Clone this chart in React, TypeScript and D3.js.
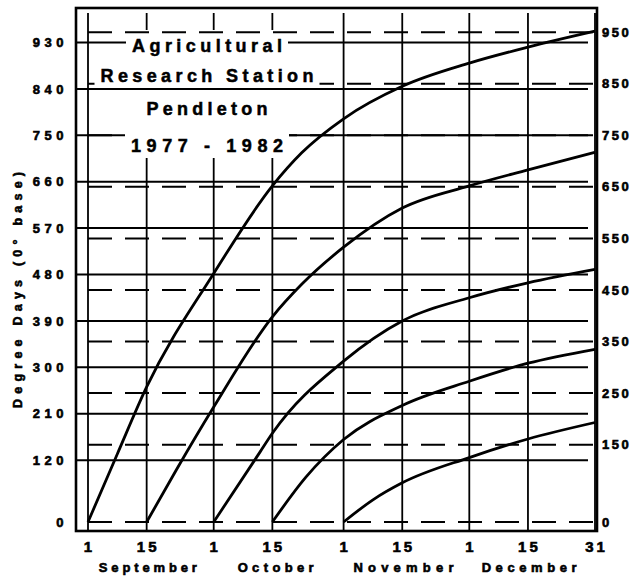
import { useEffect, useRef } from "react";
import * as d3 from "d3";

// tick dates along the bottom and their printed labels
const tickDates = [
    "1981-09-01",
    "1981-09-15",
    "1981-10-01",
    "1981-10-15",
    "1981-11-01",
    "1981-11-15",
    "1981-12-01",
    "1981-12-15",
    "1981-12-31",
];
const tickLabels = ["1", "15", "1", "15", "1", "15", "1", "15", "31"];
const months = ["September", "October", "November", "December"];
const monthStarts = ["1981-09-01", "1981-10-01", "1981-11-01", "1981-12-01", "1981-12-31"];

// solid grid (left scale) and dashed grid (right scale)
const leftValues = [0, 120, 210, 300, 390, 480, 570, 660, 750, 840, 930];
const rightValues = [0, 150, 250, 350, 450, 550, 650, 750, 850, 950];

const titleLines = ["Agricultural", "Research Station", "Pendleton", "1977 - 1982"];

// accumulated degree days, one curve per start date
const fromSep1 = [
    ["1981-09-01", 0],
    ["1981-09-08", 132],
    ["1981-09-15", 262],
    ["1981-10-01", 482],
    ["1981-10-15", 652],
    ["1981-10-22", 716],
    ["1981-11-01", 782],
    ["1981-11-15", 845],
    ["1981-12-01", 890],
    ["1981-12-15", 921],
    ["1981-12-31", 952],
];
const fromSep15 = [
    ["1981-09-15", 0],
    ["1981-09-22", 100],
    ["1981-10-01", 223],
    ["1981-10-15", 398],
    ["1981-10-22", 461],
    ["1981-11-01", 533],
    ["1981-11-15", 609],
    ["1981-12-01", 652],
    ["1981-12-15", 683],
    ["1981-12-31", 717],
];
const fromOct1 = [
    ["1981-10-01", 0],
    ["1981-10-12", 135],
    ["1981-10-15", 172],
    ["1981-11-01", 312],
    ["1981-11-15", 390],
    ["1981-12-01", 435],
    ["1981-12-15", 464],
    ["1981-12-31", 490],
];
const fromOct15 = [
    ["1981-10-15", 0],
    ["1981-10-23", 87],
    ["1981-11-01", 160],
    ["1981-11-15", 226],
    ["1981-12-01", 273],
    ["1981-12-15", 308],
    ["1981-12-31", 335],
];
const fromNov1 = [
    ["1981-11-01", 0],
    ["1981-11-08", 43],
    ["1981-11-15", 76],
    ["1981-12-01", 125],
    ["1981-12-15", 161],
    ["1981-12-31", 193],
];
const allSeries = [fromSep1, fromSep15, fromOct1, fromOct15, fromNov1];

const font = "'Liberation Sans', Arial, sans-serif";

const App = () => {
    const ref = useRef<HTMLDivElement>(null);

    useEffect(() => {
        const width = 633;
        const height = 580;
        const frameLeft = 76;
        const frameTop = 8;
        const frameRight = 597;
        const axisY = 531;

        const parse = (s: string) => new Date(s + "T00:00:00Z");

        const x = d3.scaleUtc([parse("1981-09-01"), parse("1981-12-31")], [88, 595]);
        const y = d3.scaleLinear([0, 950], [522, 32.2]);

        const svg = d3
            .create("svg")
            .attr("width", width)
            .attr("height", height)
            .attr("viewBox", [0, 0, width, height])
            .style("background", "#fff")
            .style("font-family", font);

        // attach first so text can be measured
        ref.current!.innerHTML = "";
        ref.current!.appendChild(svg.node()!);

        // layers in drawing order
        const gVert = svg.append("g");
        const gBox = svg.append("g");
        const gGrid = svg.append("g");
        const gBacks = svg.append("g");
        const gTitle = svg.append("g")
            .attr("font-weight", "bold")
            .attr("fill", "#000")
            .attr("stroke", "#000")
            .attr("stroke-width", 0.5);

        // vertical grid lines
        gVert.selectAll("line")
            .data(tickDates)
            .join("line")
            .attr("x1", (d) => x(parse(d)))
            .attr("x2", (d) => x(parse(d)))
            .attr("y1", frameTop + 5)
            .attr("y2", axisY)
            .attr("stroke", "#000")
            .attr("stroke-width", 1.8);

        // horizontal grid: solid on the left scale, dashed on the right scale
        gGrid.selectAll("line.solid")
            .data(leftValues.filter((v) => v > 0))
            .join("line")
            .attr("class", "solid")
            .attr("x1", frameLeft)
            .attr("x2", 588)
            .attr("y1", (d) => y(d))
            .attr("y2", (d) => y(d))
            .attr("stroke", "#000")
            .attr("stroke-width", 2);
        gGrid.selectAll("line.dash")
            .data(rightValues)
            .join("line")
            .attr("class", "dash")
            .attr("x1", 88)
            .attr("x2", frameRight)
            .attr("y1", (d) => y(d))
            .attr("y2", (d) => y(d))
            .attr("stroke", "#000")
            .attr("stroke-width", 2)
            .attr("stroke-dasharray", "24,13");

        // title block
        const titleX = 207;
        const titleBaselines = [52, 82, 115, 152];
        const titleWidths = [150, 213, 121, 152];
        const texts = titleLines.map((t, i) =>
            gTitle
                .append("text")
                .attr("x", titleX)
                .attr("y", titleBaselines[i])
                .attr("text-anchor", "middle")
                .attr("font-size", 18)
                .attr("textLength", titleWidths[i])
                .attr("lengthAdjust", "spacing")
                .text(t)
        );

        // white backing: a box that hides the vertical lines, and one strip per line of words
        const boxes = texts.map((t) => (t.node() as SVGTextElement).getBBox());
        const minX = d3.min(boxes, (b) => b.x) ?? 0;
        const maxX = d3.max(boxes, (b) => b.x + b.width) ?? 0;
        const top = boxes[0].y;
        const bottom = boxes[3].y + boxes[3].height;
        gBox.append("rect")
            .attr("x", minX + 24)
            .attr("y", top - 6)
            .attr("width", maxX - minX - 36)
            .attr("height", bottom - top + 8)
            .attr("fill", "#fff");
        boxes.forEach((b) => {
            gBacks.append("rect")
                .attr("x", b.x - 6)
                .attr("y", b.y - 2)
                .attr("width", b.width + 12)
                .attr("height", b.height + 3)
                .attr("fill", "#fff");
        });

        // frame
        svg.append("rect")
            .attr("x", frameLeft)
            .attr("y", frameTop)
            .attr("width", frameRight - frameLeft)
            .attr("height", axisY - frameTop)
            .attr("fill", "none")
            .attr("stroke", "#000")
            .attr("stroke-width", 2.6);

        // curves
        const line = d3
            .line<any>()
            .x((d) => x(parse(d[0])))
            .y((d) => y(d[1]))
            .curve(d3.curveMonotoneX);
        svg.append("g")
            .selectAll("path")
            .data(allSeries)
            .join("path")
            .attr("d", (d) => line(d))
            .attr("fill", "none")
            .attr("stroke", "#000")
            .attr("stroke-width", 2.8);

        const labels = svg.append("g")
            .attr("font-weight", "bold")
            .attr("fill", "#000")
            .attr("stroke", "#000")
            .attr("stroke-width", 0.6);

        // left axis labels
        labels.append("g")
            .attr("font-size", 13)
            .selectAll("text")
            .data(leftValues)
            .join("text")
            .attr("x", 68)
            .attr("y", (d) => y(d) + 4.6)
            .attr("text-anchor", "end")
            .attr("letter-spacing", 4.5)
            .text((d) => d);

        // right axis labels
        labels.append("g")
            .attr("font-size", 13)
            .selectAll("text")
            .data(rightValues)
            .join("text")
            .attr("x", 602)
            .attr("y", (d) => y(d) + 4.6)
            .attr("letter-spacing", 2.5)
            .text((d) => d);

        // bottom tick labels
        labels.append("g")
            .attr("font-size", 15)
            .selectAll("text")
            .data(tickDates)
            .join("text")
            .attr("x", (d) => x(parse(d)) + 1.5)
            .attr("y", 552)
            .attr("text-anchor", "middle")
            .attr("letter-spacing", 3)
            .text((d, i) => tickLabels[i]);

        // month names, centred on each month
        const monthWidths = [98, 76, 100, 95];
        labels.append("g")
            .attr("font-size", 13)
            .selectAll("text")
            .data(months)
            .join("text")
            .attr("x", (d, i) => (x(parse(monthStarts[i])) + x(parse(monthStarts[i + 1]))) / 2 - 3)
            .attr("y", 572)
            .attr("text-anchor", "middle")
            .attr("textLength", (d, i) => monthWidths[i])
            .attr("lengthAdjust", "spacing")
            .text((d) => d);

        // y axis title
        labels.append("text")
            .attr("transform", "translate(22,290) rotate(-90)")
            .attr("text-anchor", "middle")
            .attr("font-size", 12.5)
            .attr("textLength", 236)
            .attr("lengthAdjust", "spacing")
            .text("Degree Days (0\u00b0 base)");
    }, []);

    return <div ref={ref} style={{ position: "fixed", left: 0, top: 0 }}></div>;
};

export default App;
